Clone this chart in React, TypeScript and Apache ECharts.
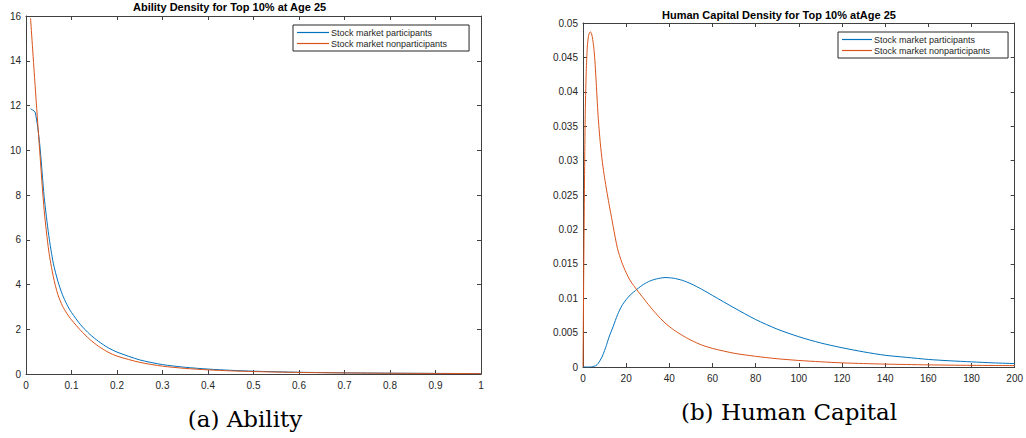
import React, { useEffect, useRef } from "react";
import * as echarts from "echarts";

const legendNames = ["Stock market participants", "Stock market nonparticipants"];
const titleAbility = "Ability Density for Top 10% at Age 25";
const titleHuman = "Human Capital Density for Top 10% atAge 25";
const captionAbility = "(a) Ability";
const captionHuman = "(b) Human Capital";

const xAbility = [0.01, 0.02, 0.03, 0.04, 0.05, 0.06, 0.07, 0.08, 0.09, 0.1, 0.12, 0.14, 0.16, 0.18, 0.2, 0.25, 0.3, 0.35, 0.4, 0.45, 0.5, 0.6, 0.7, 0.8, 0.9, 1.0];
const abilityParticipants = [11.85, 11.7, 10.3, 7.9, 6.2, 4.95, 4.15, 3.55, 3.1, 2.75, 2.2, 1.78, 1.45, 1.18, 0.98, 0.63, 0.42, 0.3, 0.22, 0.165, 0.125, 0.078, 0.052, 0.036, 0.026, 0.019];
const abilityNonparticipants = [15.9, 12.9, 10.0, 7.3, 5.5, 4.35, 3.55, 3.05, 2.7, 2.42, 1.95, 1.55, 1.23, 0.98, 0.8, 0.52, 0.35, 0.25, 0.185, 0.14, 0.11, 0.07, 0.048, 0.034, 0.025, 0.019];

const xHuman = [0, 0.5, 1, 1.5, 2, 2.5, 3, 3.5, 4, 4.5, 5, 5.5, 6, 7, 8, 9, 10, 11, 12, 13, 14, 16, 18, 20, 22, 25, 28, 31, 34, 38, 42, 46, 50, 55, 60, 70, 80, 90, 100, 110, 120, 130, 140, 150, 160, 170, 180, 190, 200];
const humanParticipants = [0, 0, 0, 0, 0, 0, 0, 0.00001, 0.00003, 0.00006, 0.0001, 0.00015, 0.0002, 0.0005, 0.001, 0.0016, 0.0024, 0.0033, 0.0043, 0.0051, 0.0059, 0.0076, 0.0089, 0.0098, 0.0105, 0.0113, 0.0120, 0.0125, 0.0128, 0.0130, 0.0129, 0.0126, 0.0121, 0.0113, 0.0104, 0.0086, 0.0069, 0.0055, 0.0044, 0.0035, 0.0028, 0.0022, 0.0017, 0.0014, 0.0011, 0.0009, 0.00075, 0.0006, 0.0005];
const humanNonparticipants = [0, 0.02, 0.036, 0.043, 0.0465, 0.048, 0.0486, 0.0487, 0.0484, 0.0476, 0.0464, 0.0446, 0.042, 0.0365, 0.0326, 0.0297, 0.0275, 0.0256, 0.0238, 0.0221, 0.0204, 0.0172, 0.0152, 0.0137, 0.0125, 0.0112, 0.01, 0.0088, 0.0077, 0.0064, 0.0054, 0.0046, 0.0039, 0.0032, 0.0027, 0.002, 0.00155, 0.0012, 0.00095, 0.00076, 0.0006, 0.0005, 0.00042, 0.00036, 0.00031, 0.00027, 0.00024, 0.00022, 0.0002];

const BLUE = "#0072BD";
const ORANGE = "#D95319";
const AX = "#404040";
const TXT = "#262626";
const FONT = "Liberation Sans, Arial, Helvetica, sans-serif";

const fmt = (v: number) => String(+Number(v).toFixed(4));

function mkAxes(grid: number, xmin: number, xmax: number, xint: number, ymin: number, ymax: number, yint: number) {
  const line = { show: true, onZero: false, lineStyle: { color: AX, width: 1 } };
  const tick = { show: true, inside: true, length: 4, lineStyle: { color: AX, width: 1 } };
  const label = { color: TXT, fontSize: 10, fontFamily: FONT, formatter: fmt };
  const xs = [
    { type: "value", gridIndex: grid, position: "bottom", min: xmin, max: xmax, interval: xint, axisLine: line, axisTick: tick, axisLabel: { ...label, margin: 6 }, splitLine: { show: false } },
    { type: "value", gridIndex: grid, position: "top", min: xmin, max: xmax, interval: xint, axisLine: line, axisTick: tick, axisLabel: { show: false }, splitLine: { show: false } },
  ];
  const ys = [
    { type: "value", gridIndex: grid, position: "left", min: ymin, max: ymax, interval: yint, axisLine: line, axisTick: tick, axisLabel: { ...label, margin: 5 }, splitLine: { show: false } },
    { type: "value", gridIndex: grid, position: "right", min: ymin, max: ymax, interval: yint, axisLine: line, axisTick: tick, axisLabel: { show: false }, splitLine: { show: false } },
  ];
  return { xs, ys };
}

export default function App() {
  const ref = useRef<HTMLDivElement>(null);
  useEffect(() => {
    if (!ref.current) return;
    const chart = echarts.init(ref.current, undefined, { renderer: "svg" });
    const a = mkAxes(0, 0, 1, 0.1, 0, 16, 2);
    const b = mkAxes(1, 0, 200, 20, 0, 0.05, 0.005);
    const mkSeries = (name: string, xs: number[], ys: number[], color: string, axisBase: number) => ({
      name,
      type: "line",
      xAxisIndex: axisBase,
      yAxisIndex: axisBase,
      data: xs.map((x, i) => [x, ys[i]]),
      symbol: "none",
      smooth: 0.25,
      lineStyle: { color, width: 1 },
      itemStyle: { color },
    });
    const legendCommon = {
      orient: "vertical",
      data: legendNames,
      icon: "rect",
      itemWidth: 32,
      itemHeight: 1.2,
      itemGap: 2,
      selectedMode: false,
      borderColor: "#262626",
      borderWidth: 1,
      backgroundColor: "#ffffff",
      textStyle: { fontSize: 9, fontFamily: FONT, color: TXT, padding: [0, 0, 0, -3] },
    };
    chart.setOption({
      animation: false,
      backgroundColor: "#ffffff",
      title: [
        { text: titleAbility, left: 133, top: 1, padding: 0, textStyle: { fontSize: 11, fontWeight: "bold", fontFamily: FONT, color: "#000" } },
        { text: titleHuman, left: 662, top: 9, padding: 0, textStyle: { fontSize: 11, fontWeight: "bold", fontFamily: FONT, color: "#000" } },
      ],
      grid: [
        { left: 26, top: 16, width: 455, height: 358 },
        { left: 583, top: 23, width: 436, height: 344 },
      ],
      xAxis: [...a.xs, ...b.xs],
      yAxis: [...a.ys, ...b.ys],
      legend: [
        { ...legendCommon, left: 293, top: 25, padding: [3, 22, 3, 4] },
        { ...legendCommon, left: 838, top: 32, padding: [3, 18, 3, 4], itemWidth: 30 },
      ],
      series: [
        mkSeries(legendNames[0], xAbility, abilityParticipants, BLUE, 0),
        mkSeries(legendNames[1], xAbility, abilityNonparticipants, ORANGE, 0),
        mkSeries(legendNames[0], xHuman, humanParticipants, BLUE, 2),
        mkSeries(legendNames[1], xHuman, humanNonparticipants, ORANGE, 2),
      ],
      graphic: [
        { type: "text", x: 245, y: 419, style: { text: captionAbility, font: "23px 'DejaVu Serif', serif", fill: "#000", textAlign: "center", textVerticalAlign: "middle" } },
        { type: "text", x: 789, y: 412, style: { text: captionHuman, font: "23px 'DejaVu Serif', serif", fill: "#000", textAlign: "center", textVerticalAlign: "middle" } },
      ],
    });
    return () => chart.dispose();
  }, []);
  return <div ref={ref} style={{ position: "absolute", left: 0, top: 0, width: 1026, height: 438 }} />;
}
